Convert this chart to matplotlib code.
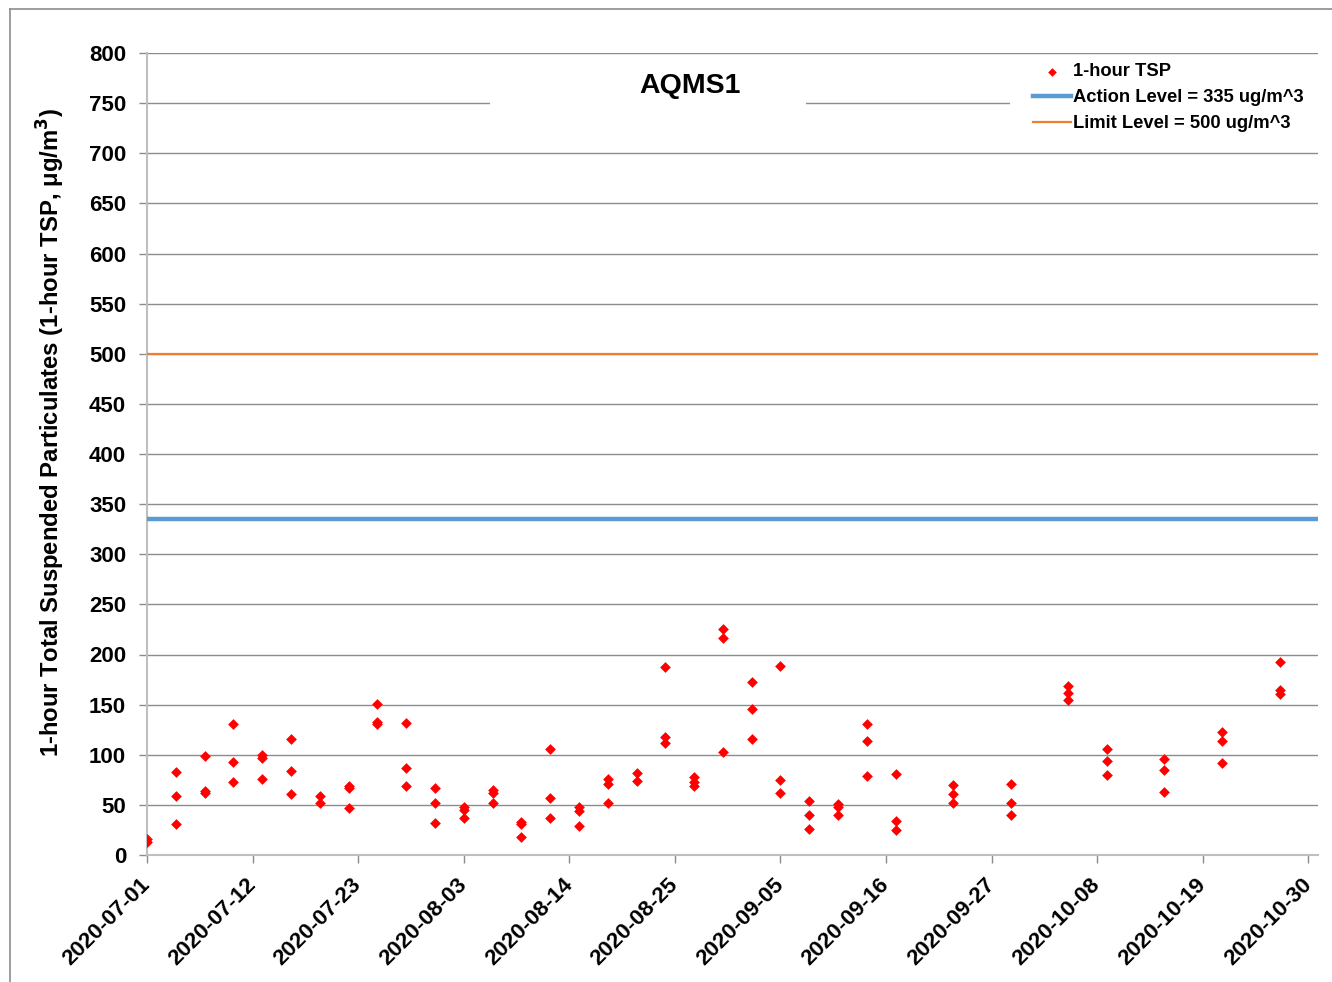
"""AQMS1 1-hour TSP scatter against action / limit levels."""

import matplotlib

matplotlib.use("Agg")
import matplotlib.pyplot as plt  # noqa: E402
import matplotlib.dates as mdates  # noqa: E402
import numpy as np  # noqa: E402
from matplotlib.lines import Line2D  # noqa: E402
from matplotlib.patches import Rectangle  # noqa: E402

plt.rcParams["font.family"] = ["Liberation Sans", "DejaVu Sans"]
plt.rcParams["font.weight"] = "bold"

# sampling days and the readings taken on each (ug/m^3)
sample_days = ["2020-07-01", "2020-07-04", "2020-07-07", "2020-07-10", "2020-07-13",
               "2020-07-16", "2020-07-19", "2020-07-22", "2020-07-25", "2020-07-28",
               "2020-07-31", "2020-08-03", "2020-08-06", "2020-08-09", "2020-08-12",
               "2020-08-15", "2020-08-18", "2020-08-21", "2020-08-24", "2020-08-27",
               "2020-08-30", "2020-09-02", "2020-09-05", "2020-09-08", "2020-09-11",
               "2020-09-14", "2020-09-17", "2020-09-23", "2020-09-29", "2020-10-05",
               "2020-10-09", "2020-10-15", "2020-10-21", "2020-10-27"]
tsp_readings = [
    [16, 13], [83, 59, 31], [99, 64, 62], [131, 93, 73], [100, 97, 76],
    [116, 84, 61], [59, 52], [69, 67, 47], [151, 133, 131], [132, 87, 69],
    [67, 52, 32], [48, 45, 37], [65, 62, 52], [33, 31, 18], [106, 57, 37],
    [48, 44, 29], [76, 71, 52], [82, 74], [188, 118, 112], [78, 73, 69],
    [225, 216, 103], [173, 146, 116], [189, 75, 62], [54, 40, 26], [51, 48, 40],
    [131, 114, 79], [81, 34, 25], [70, 61, 52], [71, 52, 40], [169, 162, 155],
    [106, 94, 80], [96, 85, 63], [123, 114, 92], [193, 165, 161],
]
action_level = 335
limit_level = 500

x_pts, y_pts = [], []
for day, vals in zip(sample_days, tsp_readings):
    for v in vals:
        x_pts.append(np.datetime64(day))
        y_pts.append(v)

fig = plt.figure(figsize=(13.32, 9.82), dpi=100)
ax = fig.add_axes([147 / 1332, 1 - 855 / 982, (1318 - 147) / 1332, (855 - 53) / 982])

ax.scatter(x_pts, y_pts, marker="D", s=30, color="red", linewidths=0,
           zorder=4, label="1-hour TSP")
ax.axhline(action_level, color="#5B9BD5", lw=3.2, zorder=3,
           label="Action Level = 335 ug/m^3")
ax.axhline(limit_level, color="#ED7D31", lw=1.6, zorder=3,
           label="Limit Level = 500 ug/m^3")

ax.set_xlim(np.datetime64("2020-07-01"), np.datetime64("2020-10-31"))
ax.set_ylim(0, 800)
ax.set_yticks(np.arange(0, 801, 50))
ticks = np.arange(np.datetime64("2020-07-01"), np.datetime64("2020-10-31"),
                  np.timedelta64(11, "D"))
ax.set_xticks(ticks)
ax.xaxis.set_major_formatter(mdates.DateFormatter("%Y-%m-%d"))

ax.grid(axis="y", color="#8c8c8c", lw=1.0, zorder=0)
ax.set_axisbelow(True)
for side in ("top", "right"):
    ax.spines[side].set_visible(False)
for side in ("left", "bottom"):
    ax.spines[side].set_color("#bfbfbf")
    ax.spines[side].set_linewidth(1.5)
ax.tick_params(axis="both", colors="#8c8c8c", length=6, width=1.0,
               labelcolor="black", labelsize=16)
ax.tick_params(axis="x", pad=13)
ax.tick_params(axis="y", pad=9)
for lbl in ax.get_xticklabels():
    lbl.set_rotation(45)
    lbl.set_ha("right")
    lbl.set_va("center")
    lbl.set_rotation_mode("anchor")

ax.set_ylabel("1-hour Total Suspended Particulates (1-hour TSP, μg/m$^\\mathbf{3}$)",
              fontsize=17.2, fontweight="bold")
ax.yaxis.set_label_coords(-0.068, 0.527)

# white box behind the chart title, cutting the 750 gridline
ax.add_patch(Rectangle((0.293, 0.91), 0.27, 0.08, transform=ax.transAxes,
                       facecolor="white", edgecolor="none", zorder=2))
ax.text(0.4637, 0.959, "AQMS1", transform=ax.transAxes, ha="center",
        va="center", fontsize=20.5, fontweight="bold", zorder=5)

# white box behind the legend
ax.add_patch(Rectangle((0.737, 0.904), 0.263, 0.087, transform=ax.transAxes,
                       facecolor="white", edgecolor="none", zorder=2))
leg = ax.legend(loc="upper left", bbox_to_anchor=(0.7566, 0.987), frameon=False,
                prop={"size": 13.2, "weight": "bold"}, handlelength=2.08,
                handletextpad=0.1, labelspacing=0.48, borderpad=0,
                borderaxespad=0, markerscale=0.8)
leg.set_zorder(6)

# outer frame of the exported chart
fig.add_artist(Line2D([10.5 / 1332, 10.5 / 1332], [0, 1 - 8.5 / 982],
                      color="#8c8c8c", lw=1.2))
fig.add_artist(Line2D([10.5 / 1332, 1], [1 - 8.5 / 982, 1 - 8.5 / 982],
                      color="#8c8c8c", lw=1.2))

fig.savefig("out.png", dpi=100)
